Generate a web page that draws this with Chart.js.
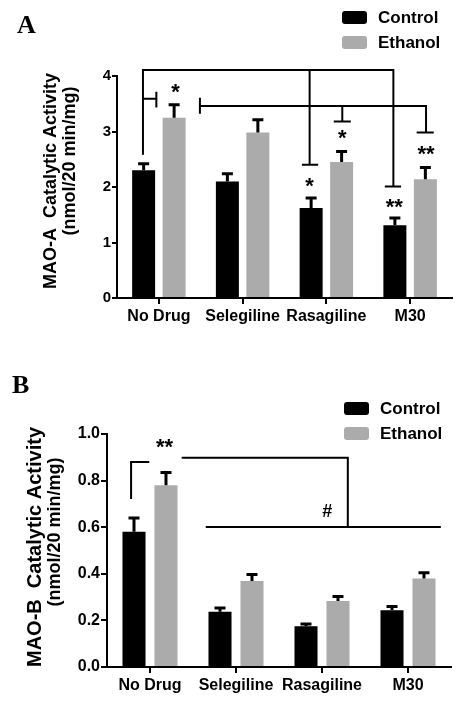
<!DOCTYPE html>
<html>
<head>
<meta charset="utf-8">
<script src="https://cdn.jsdelivr.net/npm/chart.js@4.4.0/dist/chart.umd.min.js"></script>
<style>
body { margin: 0; background: #fff; }
.painel { position: absolute; left: 0; width: 463px; }
#painelA { top: 0; height: 340px; }
#painelB { top: 340px; height: 365px; }
</style>
</head>
<body>
<div class="painel" id="painelA"><canvas id="graficoA"></canvas></div>
<div class="painel" id="painelB"><canvas id="graficoB"></canvas></div>
<script>
// Dados
const categorias = ['No Drug', 'Selegiline', 'Rasagiline', 'M30'];

const maoAControle = [2.30, 2.10, 1.62, 1.31];
const maoAControleErro = [0.12, 0.14, 0.18, 0.13];
const maoAEtanol = [3.25, 2.98, 2.45, 2.14];
const maoAEtanolErro = [0.23, 0.23, 0.19, 0.21];
const ticksA = [0, 1, 2, 3, 4];

const maoBControle = [0.58, 0.237, 0.175, 0.244];
const maoBControleErro = [0.060, 0.016, 0.010, 0.016];
const maoBEtanol = [0.78, 0.369, 0.283, 0.38];
const maoBEtanolErro = [0.055, 0.028, 0.020, 0.025];
const ticksB = [0, 0.2, 0.4, 0.6, 0.8, 1.0];

// Colchetes de significância: [x1, y1, x2, y2] com x em índice de categoria
const colchetesA = [
    [-0.19, 4.11, 2.80, 4.11],
    [-0.19, 4.11, -0.19, 2.60],
    [1.80, 4.11, 1.80, 2.40],
    [1.72, 2.40, 1.89, 2.40],
    [2.80, 4.11, 2.80, 2.01],
    [2.71, 2.01, 2.88, 2.01],
    [-0.19, 3.59, -0.03, 3.59],
    [-0.03, 3.70, -0.03, 3.45],
    [0.49, 3.46, 3.19, 3.46],
    [0.49, 3.59, 0.49, 3.34],
    [2.19, 3.46, 2.19, 3.18],
    [2.10, 3.18, 2.28, 3.18],
    [3.19, 3.46, 3.19, 2.98],
    [3.09, 2.98, 3.27, 2.98]
];
const marcasA = [
    ['*', 0.20, 3.82],
    ['*', 1.80, 2.13],
    ['*', 2.19, 2.98],
    ['**', 2.81, 1.74],
    ['**', 3.19, 2.69]
];

const colchetesB = [
    [-0.22, 0.725, -0.22, 0.88],
    [-0.22, 0.88, -0.02, 0.88],
    [0.38, 0.898, 2.30, 0.898],
    [2.30, 0.898, 2.30, 0.601],
    [0.66, 0.601, 3.37, 0.601]
];
const marcasB = [
    ['**', 0.17, 0.97],
    ['#', 2.06, 0.67]
];

const FONTE = '"Liberation Sans", Arial, sans-serif';
const PRETO = '#000000';
const CINZA = '#ababab';

// Barras de erro (só para cima, como na figura)
const barrasDeErro = {
    id: 'barrasDeErro',
    afterDatasetsDraw(chart) {
        const ctx = chart.ctx;
        const escalaY = chart.scales.y;
        chart.data.datasets.forEach((dataset, i) => {
            const meta = chart.getDatasetMeta(i);
            meta.data.forEach((barra, j) => {
                const topo = escalaY.getPixelForValue(dataset.data[j] + dataset.erros[j]);
                ctx.save();
                ctx.strokeStyle = PRETO;
                ctx.lineWidth = 3;
                ctx.beginPath();
                ctx.moveTo(barra.x, barra.y);
                ctx.lineTo(barra.x, topo);
                ctx.moveTo(barra.x - 5.5, topo);
                ctx.lineTo(barra.x + 5.5, topo);
                ctx.stroke();
                ctx.restore();
            });
        });
    }
};

function criarAnotacoes(config) {
    return {
        id: 'anotacoes',
        afterDraw(chart) {
            const ctx = chart.ctx;
            const x = chart.scales.x;
            const y = chart.scales.y;

            ctx.save();
            ctx.strokeStyle = PRETO;
            ctx.lineWidth = 2;
            ctx.lineCap = 'square';
            ctx.beginPath();
            for (const [x1, y1, x2, y2] of config.colchetes) {
                ctx.moveTo(x.getPixelForValue(x1), y.getPixelForValue(y1));
                ctx.lineTo(x.getPixelForValue(x2), y.getPixelForValue(y2));
            }
            ctx.stroke();

            ctx.fillStyle = PRETO;
            ctx.textAlign = 'center';
            ctx.textBaseline = 'alphabetic';
            for (const [texto, xv, yv] of config.marcas) {
                const tamanho = texto === '#' ? 18 : 22;
                const ajuste = texto === '#' ? 0.36 : 0.58;
                ctx.font = 'bold ' + tamanho + 'px ' + FONTE;
                ctx.fillText(texto, x.getPixelForValue(xv), y.getPixelForValue(yv) + ajuste * tamanho);
            }

            // Letra do painel
            ctx.textAlign = 'left';
            ctx.font = 'bold 26px "Liberation Serif", "Times New Roman", serif';
            ctx.fillText(config.letra, config.letraX, config.letraY);

            // Legenda
            ctx.font = 'bold 17px ' + FONTE;
            ctx.textBaseline = 'middle';
            config.legenda.forEach((item, i) => {
                const topo = config.legendaY + i * 25;
                ctx.fillStyle = item.cor;
                ctx.beginPath();
                ctx.roundRect(config.legendaX, topo, 25, 13, 3);
                ctx.fill();
                ctx.fillStyle = PRETO;
                ctx.fillText(item.nome, config.legendaX + 36, topo + 7);
            });

            // Título do eixo Y em duas linhas
            ctx.textAlign = 'center';
            config.tituloY.forEach(linha => {
                ctx.save();
                ctx.font = 'bold ' + linha.tamanho + 'px ' + FONTE;
                ctx.translate(linha.x, linha.y);
                ctx.rotate(-Math.PI / 2);
                ctx.fillText(linha.texto, 0, 0);
                ctx.restore();
            });
            ctx.restore();
        }
    };
}

function criarGrafico(id, dados, config) {
    const ctx = document.getElementById(id).getContext('2d');
    return new Chart(ctx, {
        type: 'bar',
        data: {
            labels: categorias,
            datasets: [
                {
                    label: 'Control',
                    data: dados.controle,
                    erros: dados.controleErro,
                    backgroundColor: PRETO,
                    borderWidth: 0,
                    categoryPercentage: config.categoryPercentage,
                    barPercentage: config.barPercentage
                },
                {
                    label: 'Ethanol',
                    data: dados.etanol,
                    erros: dados.etanolErro,
                    backgroundColor: CINZA,
                    borderWidth: 0,
                    categoryPercentage: config.categoryPercentage,
                    barPercentage: config.barPercentage
                }
            ]
        },
        options: {
            responsive: true,
            maintainAspectRatio: false,
            devicePixelRatio: 1,
            animation: false,
            layout: {
                padding: { left: 0, right: config.direita, top: config.topo, bottom: 0 }
            },
            plugins: {
                legend: { display: false },
                tooltip: { enabled: false }
            },
            scales: {
                x: {
                    grid: {
                        offset: false,
                        drawOnChartArea: false,
                        color: PRETO,
                        lineWidth: 2,
                        tickLength: 6
                    },
                    border: { color: PRETO, width: 2 },
                    ticks: {
                        color: PRETO,
                        padding: 3,
                        maxRotation: 0,
                        font: { family: FONTE, weight: 'bold', size: 16 }
                    },
                    afterFit: escala => { escala.height = config.alturaX; }
                },
                y: {
                    min: 0,
                    max: dados.ticks[dados.ticks.length - 1],
                    afterBuildTicks: escala => {
                        escala.ticks = dados.ticks.map(v => ({ value: v }));
                    },
                    grid: {
                        drawOnChartArea: false,
                        color: PRETO,
                        lineWidth: 2,
                        tickLength: config.ticoY
                    },
                    border: { color: PRETO, width: 2 },
                    ticks: {
                        color: PRETO,
                        padding: 1,
                        font: { family: FONTE, weight: 'bold', size: config.fonteY },
                        callback: v => v.toFixed(config.casas)
                    },
                    afterFit: escala => { escala.width = config.larguraY; }
                }
            }
        },
        plugins: [barrasDeErro, criarAnotacoes(config)]
    });
}

window.onload = function () {
    criarGrafico('graficoA', {
        controle: maoAControle,
        controleErro: maoAControleErro,
        etanol: maoAEtanol,
        etanolErro: maoAEtanolErro,
        ticks: ticksA
    }, {
        categoryPercentage: 0.728,
        barPercentage: 0.754,
        direita: 11,
        topo: 76,
        alturaX: 42,
        larguraY: 117,
        ticoY: 5,
        fonteY: 15,
        casas: 0,
        colchetes: colchetesA,
        marcas: marcasA,
        letra: 'A',
        letraX: 17,
        letraY: 33,
        legendaX: 342,
        legendaY: 11,
        legenda: [{ nome: 'Control', cor: PRETO }, { nome: 'Ethanol', cor: CINZA }],
        tituloY: [
            { texto: 'MAO-A  Catalytic Activity', x: 51, y: 181, tamanho: 18 },
            { texto: '(nmol/20 min/mg)', x: 70, y: 161, tamanho: 18 }
        ]
    });

    criarGrafico('graficoB', {
        controle: maoBControle,
        controleErro: maoBControleErro,
        etanol: maoBEtanol,
        etanolErro: maoBEtanolErro,
        ticks: ticksB
    }, {
        categoryPercentage: 0.744,
        barPercentage: 0.72,
        direita: 12,
        topo: 94,
        alturaX: 38,
        larguraY: 107,
        ticoY: 6,
        fonteY: 16,
        casas: 1,
        colchetes: colchetesB,
        marcas: marcasB,
        letra: 'B',
        letraX: 12,
        letraY: 53,
        legendaX: 344,
        legendaY: 62,
        legenda: [{ nome: 'Control', cor: PRETO }, { nome: 'Ethanol', cor: CINZA }],
        tituloY: [
            { texto: 'MAO-B  Catalytic Activity', x: 35, y: 207, tamanho: 20 },
            { texto: '(nmol/20 min/mg)', x: 55, y: 192, tamanho: 18 }
        ]
    });
};
</script>
</body>
</html>
